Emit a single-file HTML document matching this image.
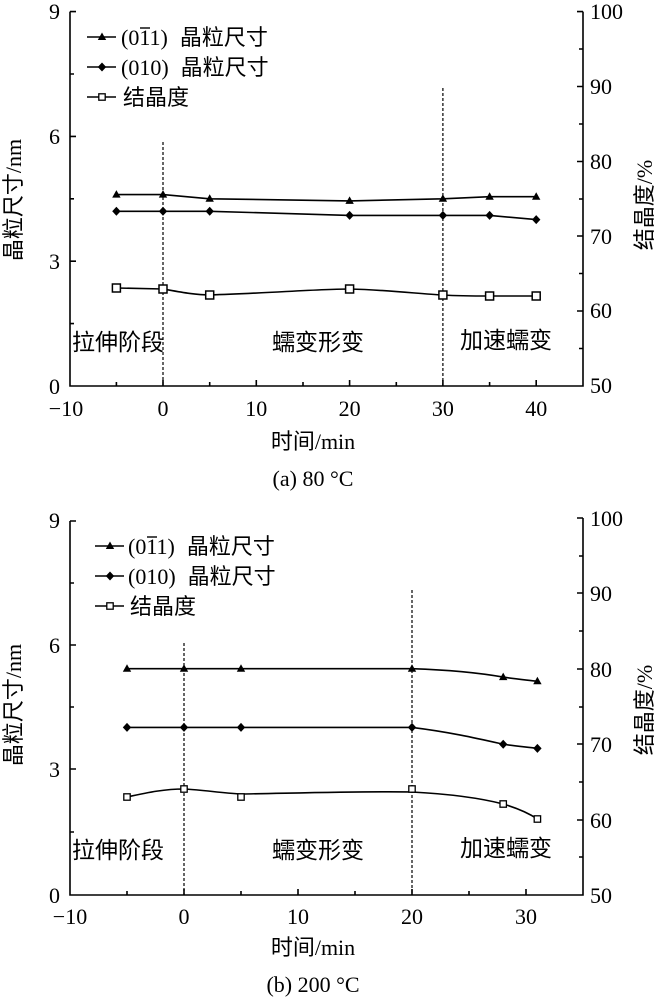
<!DOCTYPE html>
<html><head><meta charset="utf-8"><style>
body{margin:0;background:#fff}
svg{display:block}
text{font-family:"Liberation Serif","Noto Serif CJK SC","Noto Sans CJK SC",serif;fill:#000}
.c{font-family:"Liberation Serif","Noto Sans CJK SC",sans-serif}
</style></head><body>
<svg width="662" height="1000" viewBox="0 0 662 1000" xmlns="http://www.w3.org/2000/svg">
<defs>
<path id="tri" d="M0,-4.5 L4.2,3 L-4.2,3 Z" fill="#000"/>
<path id="dia" d="M0,-4.5 L4.2,0 L0,4.5 L-4.2,0 Z" fill="#000"/>
<rect id="sq" x="-4" y="-4" width="8" height="8" fill="#fff" stroke="#000" stroke-width="1.5"/>
<rect id="sqs" x="-3.2" y="-3.2" width="6.4" height="6.4" fill="#fff" stroke="#000" stroke-width="1.3"/>
</defs>

<!-- ============ TOP CHART ============ -->
<g stroke="#000" stroke-width="1.6" fill="none">
<path d="M70,11.6 V386 H583 V11.6"/>
<path d="M70,11.6 h6 M70,74 h4 M70,136.4 h6 M70,198.8 h4 M70,261.2 h6 M70,323.6 h4"/>
<path d="M583,11.6 h-6 M583,49 h-4 M583,86.5 h-6 M583,124 h-4 M583,161.5 h-6 M583,199 h-4 M583,236 h-6 M583,273.5 h-4 M583,311 h-6 M583,348.5 h-4"/>
<path d="M116.4,386 v-4 M163,386 v-6 M209.7,386 v-4 M256.3,386 v-6 M303,386 v-4 M349.6,386 v-6 M396.3,386 v-4 M442.9,386 v-6 M489.6,386 v-4 M536.2,386 v-6"/>
</g>
<g stroke="#000" stroke-width="1.2" stroke-dasharray="3,2">
<line x1="163" y1="142" x2="163" y2="386"/>
<line x1="442.9" y1="88" x2="442.9" y2="386"/>
</g>
<g fill="none" stroke="#000" stroke-width="1.6" stroke-linejoin="round">
<polyline points="116.4,194.6 163,194.6 209.7,198.8 349.6,200.9 442.9,198.8 489.6,196.7 536.2,196.7"/>
<polyline points="116.4,211.3 163,211.3 209.7,211.3 349.6,215.4 442.9,215.4 489.6,215.4 536.2,219.6"/>
<path d="M116.4,288 L163,289 C180,292 195,295 209.7,295 C270,293 320,289 349.6,289 C390,290 420,294 442.9,295 C460,296 475,296 489.6,296 L536.2,296"/>
</g>
<g>
<use href="#tri" x="116.4" y="194.6"/><use href="#tri" x="163" y="194.6"/><use href="#tri" x="209.7" y="198.8"/><use href="#tri" x="349.6" y="200.9"/><use href="#tri" x="442.9" y="198.8"/><use href="#tri" x="489.6" y="196.7"/><use href="#tri" x="536.2" y="196.7"/>
<use href="#dia" x="116.4" y="211.3"/><use href="#dia" x="163" y="211.3"/><use href="#dia" x="209.7" y="211.3"/><use href="#dia" x="349.6" y="215.4"/><use href="#dia" x="442.9" y="215.4"/><use href="#dia" x="489.6" y="215.4"/><use href="#dia" x="536.2" y="219.6"/>
<use href="#sq" x="116.4" y="288"/><use href="#sq" x="163" y="289"/><use href="#sq" x="209.7" y="295"/><use href="#sq" x="349.6" y="289"/><use href="#sq" x="442.9" y="295"/><use href="#sq" x="489.6" y="296"/><use href="#sq" x="536.2" y="296"/>
</g>
<g font-size="22" text-anchor="end">
<text x="60" y="19">9</text><text x="60" y="144">6</text><text x="60" y="269">3</text><text x="60" y="394">0</text>
</g>
<g font-size="22" text-anchor="start">
<text x="590" y="19">100</text><text x="590" y="94">90</text><text x="590" y="169">80</text><text x="590" y="244">70</text><text x="590" y="318">60</text><text x="590" y="393">50</text>
</g>
<g font-size="22" text-anchor="middle">
<text x="66" y="416">−10</text><text x="163" y="416">0</text><text x="256.3" y="416">10</text><text x="349.6" y="416">20</text><text x="442.9" y="416">30</text><text x="536.2" y="416">40</text>
<text x="313" y="449" class="c">时间/min</text>
<text x="313" y="486">(a) 80 °C</text>
</g>
<g class="c" font-size="23">
<text x="72" y="350" class="c">拉伸阶段</text>
<text x="272" y="350" class="c">蠕变形变</text>
<text x="460" y="348" class="c">加速蠕变</text>
</g>
<text class="c" font-size="22" transform="translate(21,200) rotate(-90)" text-anchor="middle">晶粒尺寸/nm</text>
<text class="c" font-size="22" transform="translate(652,205) rotate(-90)" text-anchor="middle">结晶度/%</text>
<!-- legend top -->
<g stroke="#000" stroke-width="1.6"><line x1="87" y1="37" x2="116" y2="37"/><line x1="87" y1="67" x2="116" y2="67"/><line x1="87" y1="97" x2="116" y2="97"/></g>
<use href="#tri" x="102" y="37"/><use href="#dia" x="102" y="67"/><use href="#sqs" x="102" y="97"/>
<g font-size="22" class="c">
<text x="121" y="45" class="c">(011)<tspan dx="12">晶粒尺寸</tspan></text>
<text x="121" y="75" class="c">(010)<tspan dx="12">晶粒尺寸</tspan></text>
<text x="123" y="105" class="c">结晶度</text>
</g>
<line x1="140" y1="28" x2="150" y2="28" stroke="#000" stroke-width="1.4"/>

<!-- ============ BOTTOM CHART ============ -->
<g stroke="#000" stroke-width="1.6" fill="none">
<path d="M70,521 V895 H583 V518"/>
<path d="M70,521 h6 M70,583 h4 M70,645 h6 M70,707 h4 M70,769 h6 M70,832 h4"/>
<path d="M583,518 h-6 M583,556 h-4 M583,593 h-6 M583,631 h-4 M583,669 h-6 M583,707 h-4 M583,744 h-6 M583,782 h-4 M583,820 h-6 M583,857 h-4"/>
<path d="M127,895 v-4 M184,895 v-6 M241,895 v-4 M298,895 v-6 M355,895 v-4 M412,895 v-6 M469,895 v-4 M526,895 v-6"/>
</g>
<g stroke="#000" stroke-width="1.2" stroke-dasharray="3,2">
<line x1="184" y1="643" x2="184" y2="895"/>
<line x1="412" y1="590" x2="412" y2="895"/>
</g>
<g fill="none" stroke="#000" stroke-width="1.6" stroke-linejoin="round">
<path d="M127,668.7 L412,668.7 C450,670 480,673 503.2,677.1 C515,679 527,680 537.4,681.3"/>
<path d="M127,727.4 L412,727.4 C450,732 480,739 503.2,744.2 C515,746 527,747 537.4,748.4"/>
<path d="M127,797 C150,792 165,789 184,789 C205,790 220,793 241,794 C300,793 370,791 412,792 C450,794 480,798 503.2,804 C520,809 530,814 537.4,819"/>
</g>
<g>
<use href="#tri" x="127" y="668.7"/><use href="#tri" x="184" y="668.7"/><use href="#tri" x="241" y="668.7"/><use href="#tri" x="412" y="668.7"/><use href="#tri" x="503.2" y="677.1"/><use href="#tri" x="537.4" y="681.3"/>
<use href="#dia" x="127" y="727.4"/><use href="#dia" x="184" y="727.4"/><use href="#dia" x="241" y="727.4"/><use href="#dia" x="412" y="727.4"/><use href="#dia" x="503.2" y="744.2"/><use href="#dia" x="537.4" y="748.4"/>
<use href="#sqs" x="127" y="797"/><use href="#sqs" x="184" y="789"/><use href="#sqs" x="241" y="797"/><use href="#sqs" x="412" y="789"/><use href="#sqs" x="503.2" y="804"/><use href="#sqs" x="537.4" y="819"/>
</g>
<g font-size="22" text-anchor="end">
<text x="60" y="528">9</text><text x="60" y="653">6</text><text x="60" y="777">3</text><text x="60" y="903">0</text>
</g>
<g font-size="22" text-anchor="start">
<text x="590" y="526">100</text><text x="590" y="601">90</text><text x="590" y="677">80</text><text x="590" y="752">70</text><text x="590" y="828">60</text><text x="590" y="903">50</text>
</g>
<g font-size="22" text-anchor="middle">
<text x="70" y="924">−10</text><text x="184" y="924">0</text><text x="298" y="924">10</text><text x="412" y="924">20</text><text x="526" y="924">30</text>
<text x="313" y="955" class="c">时间/min</text>
<text x="313" y="992">(b) 200 °C</text>
</g>
<g class="c" font-size="23">
<text x="72" y="858" class="c">拉伸阶段</text>
<text x="272" y="858" class="c">蠕变形变</text>
<text x="460" y="856" class="c">加速蠕变</text>
</g>
<text class="c" font-size="22" transform="translate(21,705) rotate(-90)" text-anchor="middle">晶粒尺寸/nm</text>
<text class="c" font-size="22" transform="translate(652,710) rotate(-90)" text-anchor="middle">结晶度/%</text>
<g stroke="#000" stroke-width="1.6"><line x1="95" y1="546" x2="124" y2="546"/><line x1="95" y1="576" x2="124" y2="576"/><line x1="95" y1="606" x2="124" y2="606"/></g>
<use href="#tri" x="110" y="546"/><use href="#dia" x="110" y="576"/><use href="#sqs" x="110" y="606"/>
<g font-size="22" class="c">
<text x="128" y="554" class="c">(011)<tspan dx="12">晶粒尺寸</tspan></text>
<text x="128" y="584" class="c">(010)<tspan dx="12">晶粒尺寸</tspan></text>
<text x="130" y="614" class="c">结晶度</text>
</g>
<line x1="147" y1="537" x2="157" y2="537" stroke="#000" stroke-width="1.4"/>
</svg>
</body></html>
